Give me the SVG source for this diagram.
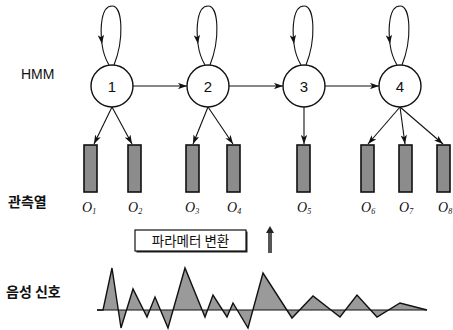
<svg xmlns="http://www.w3.org/2000/svg" width="453" height="330" viewBox="0 0 453 330">
<defs>
<marker id="ah" viewBox="0 0 10 7" refX="10" refY="3.5" markerWidth="9" markerHeight="6.3" markerUnits="userSpaceOnUse" orient="auto">
<path d="M0,0 L10,3.5 L0,7 L2.5,3.5 z" fill="#111"/>
</marker>
<style>
.st{fill:#fff;stroke:#111;stroke-width:1.4}
.num{font-family:"Liberation Sans",Arial,sans-serif;font-size:15px;fill:#111;text-anchor:middle}
.bar{fill:#8c8c8c;stroke:#111;stroke-width:1.6}
.ol{font-family:"Liberation Serif","Times New Roman",serif;font-style:italic;font-size:14px;fill:#111}
.sub{font-size:8px}
.lbl{font-family:"Liberation Sans","Noto Sans CJK KR",sans-serif;font-size:14px;fill:#111}
.kr{font-family:"Noto Sans CJK KR",sans-serif;font-weight:bold;fill:#111}
.krn{font-family:"Noto Sans CJK KR",sans-serif;font-weight:normal;fill:#111}
.c{fill:none;stroke:#111;stroke-width:1.1;marker-end:url(#ah)}
.cl{fill:none;stroke:#111;stroke-width:1.1}
</style>
</defs>

<text class="lbl" x="21" y="79">HMM</text>
<text class="kr" x="8" y="207" font-size="14">관측열</text>
<text class="kr" x="6" y="297" font-size="14">음성 신호</text>

<g id="connectors">
<path class="c" d="M114,65 C124,40 123,6 112,6 C101,6 100,28 102,44"/>
<path class="cl" d="M102,44 C103,52 106,60 109,65"/>
<path class="c" d="M210,65 C220,40 219,6 208,6 C197,6 196,28 198,44"/>
<path class="cl" d="M198,44 C199,52 202,60 205,65"/>
<path class="c" d="M306,65 C316,40 315,6 304,6 C293,6 292,28 294,44"/>
<path class="cl" d="M294,44 C295,52 298,60 301,65"/>
<path class="c" d="M402,65 C412,40 411,6 400,6 C389,6 388,28 390,44"/>
<path class="cl" d="M390,44 C391,52 394,60 397,65"/>
<line class="c" x1="133" y1="86" x2="187" y2="86"/>
<line class="c" x1="229" y1="86" x2="283" y2="86"/>
<line class="c" x1="325" y1="86" x2="379" y2="86"/>
<line class="c" x1="112" y1="107" x2="94" y2="144"/>
<line class="c" x1="112" y1="107" x2="132" y2="144"/>
<line class="c" x1="208" y1="107" x2="193" y2="144"/>
<line class="c" x1="208" y1="107" x2="233" y2="144"/>
<line class="c" x1="304" y1="107" x2="304" y2="144"/>
<line class="c" x1="400" y1="107" x2="368" y2="144"/>
<line class="c" x1="400" y1="107" x2="405" y2="144"/>
<line class="c" x1="400" y1="107" x2="443" y2="144"/>
<line x1="270" y1="253" x2="270" y2="232" stroke="#555" stroke-width="4"/>
<path d="M266,233 L270,226 L274,233 z" fill="#222"/>
</g>

<g id="n1"><circle class="st" cx="112" cy="86" r="21"/><text class="num" x="112" y="92">1</text></g>
<g id="n2"><circle class="st" cx="208" cy="86" r="21"/><text class="num" x="208" y="92">2</text></g>
<g id="n3"><circle class="st" cx="304" cy="86" r="21"/><text class="num" x="304" y="92">3</text></g>
<g id="n4"><circle class="st" cx="400" cy="86" r="21"/><text class="num" x="400" y="92">4</text></g>

<g id="o1"><rect class="bar" x="84" y="145" width="13" height="47"/><text class="ol" x="82" y="212">O<tspan class="sub" dy="2">1</tspan></text></g>
<g id="o2"><rect class="bar" x="128" y="145" width="13" height="47"/><text class="ol" x="128" y="212">O<tspan class="sub" dy="2">2</tspan></text></g>
<g id="o3"><rect class="bar" x="186" y="145" width="13" height="47"/><text class="ol" x="185" y="212">O<tspan class="sub" dy="2">3</tspan></text></g>
<g id="o4"><rect class="bar" x="227" y="145" width="13" height="47"/><text class="ol" x="227" y="212">O<tspan class="sub" dy="2">4</tspan></text></g>
<g id="o5"><rect class="bar" x="297" y="145" width="13" height="47"/><text class="ol" x="297" y="212">O<tspan class="sub" dy="2">5</tspan></text></g>
<g id="o6"><rect class="bar" x="361" y="145" width="13" height="47"/><text class="ol" x="361" y="212">O<tspan class="sub" dy="2">6</tspan></text></g>
<g id="o7"><rect class="bar" x="399" y="145" width="13" height="47"/><text class="ol" x="399" y="212">O<tspan class="sub" dy="2">7</tspan></text></g>
<g id="o8"><rect class="bar" x="437" y="145" width="13" height="47"/><text class="ol" x="438" y="212">O<tspan class="sub" dy="2">8</tspan></text></g>

<g id="param">
<rect x="136.5" y="231.5" width="111" height="21" fill="#222"/>
<rect x="135" y="230" width="111" height="21" fill="#fff" stroke="#111" stroke-width="1.2"/>
<text class="krn" x="190.5" y="246" font-size="13.5" text-anchor="middle">파라메터 변환</text>
</g>

<g id="signal">
<path d="M97,310 L103,310 L112,268 L121,328 L133,289 L147,317 L155,297 L168,328 L185,268 L205,317 L213,295 L227,317 L233,303 L248,328 L263,273 L292,318 L313,296 L340,317 L357,295 L377,317 L400,303 L427,310 Z" fill="#9a9a9a" stroke="none"/>
<line x1="97" y1="310" x2="427" y2="310" stroke="#111" stroke-width="1.2"/>
<path d="M97,310 L103,310 L112,268 L121,328 L133,289 L147,317 L155,297 L168,328 L185,268 L205,317 L213,295 L227,317 L233,303 L248,328 L263,273 L292,318 L313,296 L340,317 L357,295 L377,317 L400,303 L427,310" fill="none" stroke="#111" stroke-width="1.4"/>
</g>
</svg>
